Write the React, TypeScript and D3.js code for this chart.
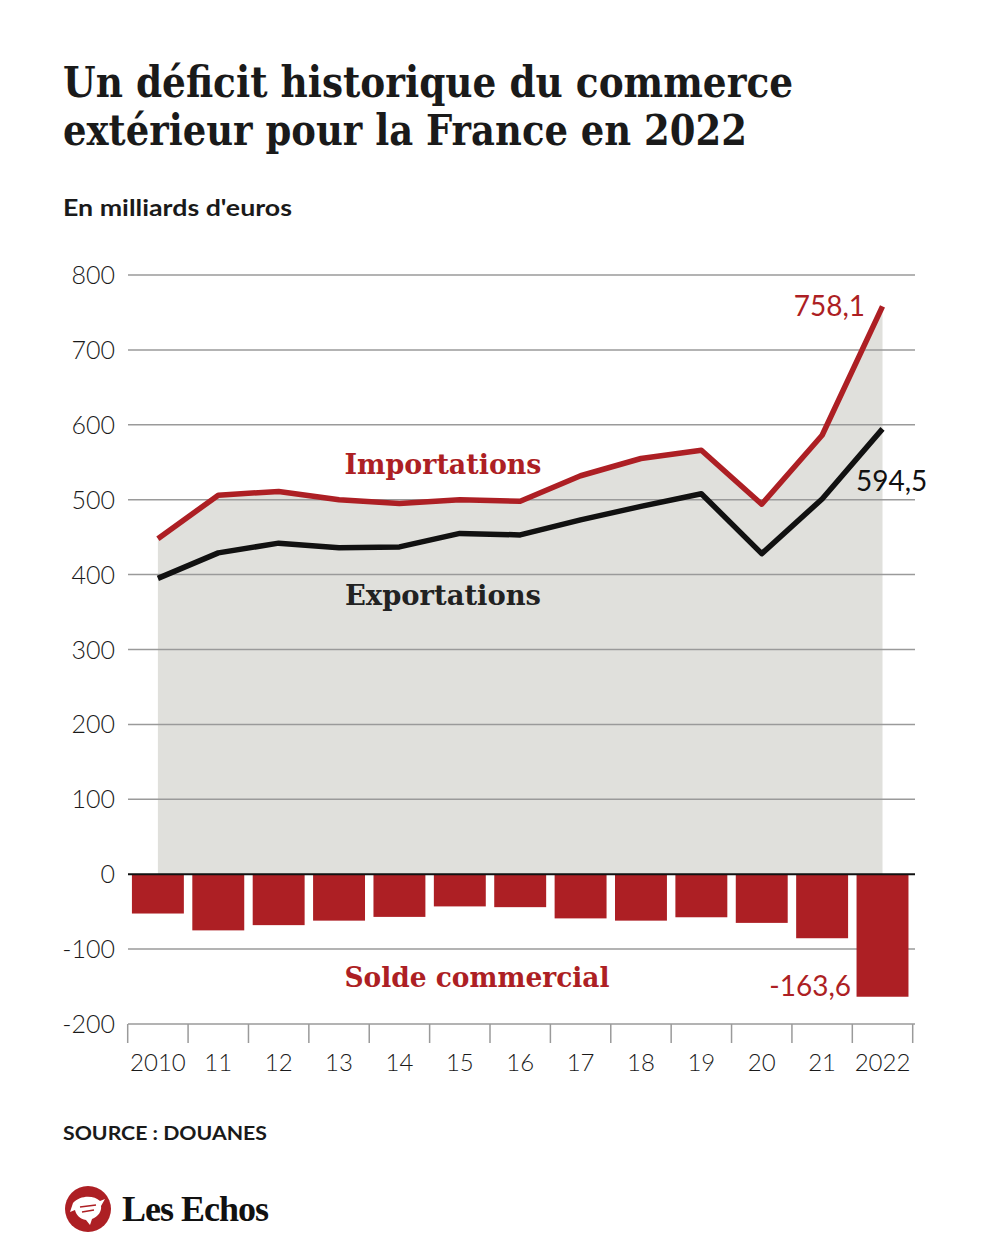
import React from "react";
import * as d3 from "d3";

const years = ["2010","11","12","13","14","15","16","17","18","19","20","21","2022"];
const imports = [448, 506, 511, 500, 495, 500, 498, 532, 555, 566, 494, 586, 758.1];
const exports_ = [395, 429, 442, 436, 437, 455, 453, 473, 491, 508, 428, 501, 594.5];
const balance = [-52.5, -75, -68, -62, -57, -43, -44, -59, -62, -57.5, -65, -85.5, -163.6];
const yTicks = [800, 700, 600, 500, 400, 300, 200, 100, 0, -100, -200];

const RED = "#ad1f24";
const DARK = "#111111";
const SLAB = "'DejaVu Serif', serif";
const SANS = "Lato, 'Open Sans', sans-serif";

export default function App() {
  const W = 1000, H = 1250;
  const x = d3.scaleBand<string>().domain(years).range([127.7, 912.7]).padding(0);
  const y = d3.scaleLinear().domain([-200, 800]).range([1024, 275]);
  const cx = (i: number) => (x(years[i]) as number) + x.bandwidth() / 2;
  const barW = x.bandwidth() * 0.86;

  const area = d3.area<number>()
    .x((_, i) => cx(i))
    .y0(y(0))
    .y1((d) => y(d));
  const line = d3.line<number>().x((_, i) => cx(i)).y((d) => y(d));

  const gridX1 = 128, gridX2 = 915;
  const tickEdges = years.map((yr) => x(yr) as number).concat([912.7]);

  return (
    <svg width={W} height={H} style={{ display: "block", position: "absolute", left: 0, top: 0, background: "#fff" }}>
      <rect x={0} y={0} width={W} height={H} fill="#fff" />
      <text x={63} y={97} fontFamily={SLAB} fontWeight={700} fontSize={42} fill="#1a1a1a" textLength={730} lengthAdjust="spacingAndGlyphs">Un déficit historique du commerce</text>
      <text x={63} y={145} fontFamily={SLAB} fontWeight={700} fontSize={42} fill="#1a1a1a" textLength={684} lengthAdjust="spacingAndGlyphs">extérieur pour la France en 2022</text>
      <text x={63} y={216} fontFamily={SANS} fontWeight={700} fontSize={22} fill="#1a1a1a" textLength={229} lengthAdjust="spacingAndGlyphs">En milliards d'euros</text>

      <path d={area(imports) || ""} fill="#e0e0dc" />

      {yTicks.filter((t) => t !== 0).map((t) => (
        <line key={t} x1={gridX1} x2={gridX2} y1={y(t)} y2={y(t)} stroke="#9a9a9a" strokeWidth={1.5} />
      ))}
      {yTicks.map((t) => (
        <text key={"l" + t} x={115} y={y(t) + 9} textAnchor="end" fontFamily={SANS} fontWeight={300} fontSize={25} fill="#1a1a1a">{t}</text>
      ))}

      {tickEdges.map((e, i) => (
        <line key={"t" + i} x1={e} x2={e} y1={y(-200)} y2={y(-200) + 19} stroke="#9a9a9a" strokeWidth={1.5} />
      ))}
      {years.map((yr, i) => (
        <text key={yr} x={cx(i)} y={1071} textAnchor="middle" fontFamily={SANS} fontWeight={300} fontSize={24} fill="#1a1a1a">{yr}</text>
      ))}

      {balance.map((v, i) => (
        <rect key={"b" + i} x={cx(i) - barW / 2} y={y(0)} width={barW} height={y(v) - y(0)} fill={RED} />
      ))}
      <line x1={gridX1} x2={gridX2} y1={y(0)} y2={y(0)} stroke="#111" strokeWidth={2} />

      <path d={line(imports) || ""} fill="none" stroke={RED} strokeWidth={5.5} strokeLinejoin="round" />
      <path d={line(exports_) || ""} fill="none" stroke={DARK} strokeWidth={5.5} strokeLinejoin="round" />

      <text x={443} y={474} textAnchor="middle" fontFamily={SLAB} fontWeight={700} fontSize={28} fill={RED} textLength={197} lengthAdjust="spacingAndGlyphs">Importations</text>
      <text x={443} y={605} textAnchor="middle" fontFamily={SLAB} fontWeight={700} fontSize={28} fill="#222" textLength={196} lengthAdjust="spacingAndGlyphs">Exportations</text>
      <text x={477} y={987} textAnchor="middle" fontFamily={SLAB} fontWeight={700} fontSize={28} fill={RED} textLength={265} lengthAdjust="spacingAndGlyphs">Solde commercial</text>

      <text x={865} y={316} textAnchor="end" fontFamily={SANS} fontWeight={400} fontSize={28} fill={RED}>758,1</text>
      <text x={856} y={491} textAnchor="start" fontFamily={SANS} fontWeight={400} fontSize={28} fill="#111">594,5</text>
      <text x={851} y={996} textAnchor="end" fontFamily={SANS} fontWeight={400} fontSize={28} fill={RED}>-163,6</text>

      <text x={63} y={1140} fontFamily={SANS} fontWeight={700} fontSize={19} fill="#1a1a1a" textLength={204} lengthAdjust="spacingAndGlyphs">SOURCE : DOUANES</text>

      <g transform="translate(88,1209)">
        <circle r={23} fill={RED} />
        <path d="M-15,-6 C-8,-14 6,-14 12,-8 L17,-10 L13,-3 C14,2 10,8 4,10 L2,16 L-2,11 C-8,10 -12,6 -13,1 L-18,3 Z" fill="#fff" />
        <path d="M-8,-2 L8,-4 M-6,3 L6,1" stroke={RED} strokeWidth={1.5} />
      </g>
      <text x={122} y={1221} fontFamily="'Liberation Serif', serif" fontWeight={700} fontSize={36} fill="#111" letterSpacing={-1}>Les Echos</text>
    </svg>
  );
}
